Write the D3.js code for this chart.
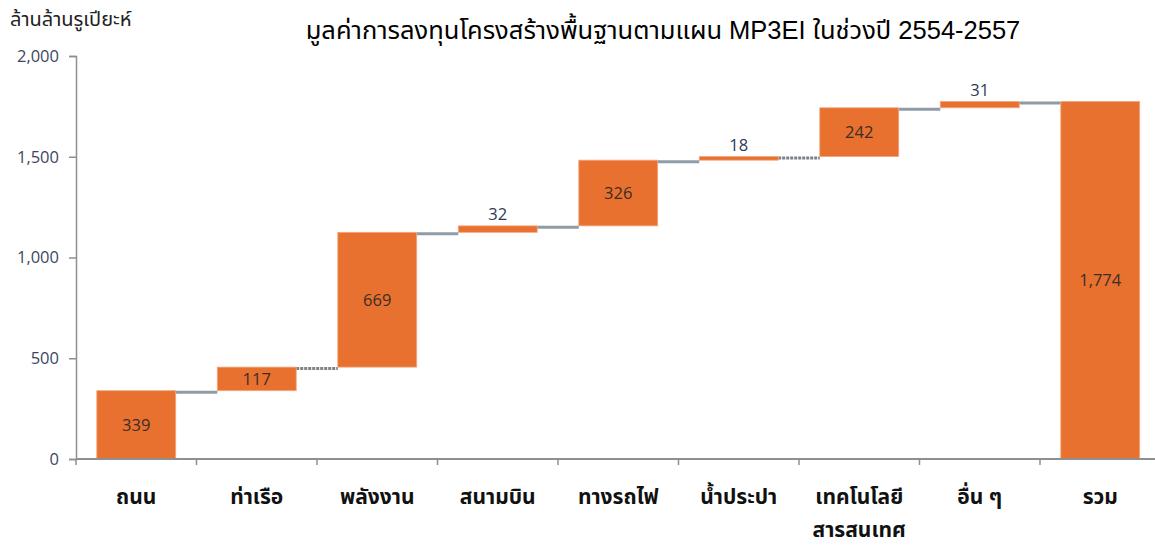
<!DOCTYPE html>
<html>
<head>
<meta charset="utf-8">
<script src="https://cdn.jsdelivr.net/npm/d3@7"></script>
<style>
  body { margin: 0; background: #fff; }
  svg { display: block; }
</style>
</head>
<body>
<div id="chart"></div>
<script>
// Données du graphique
const categories = ["ถนน", "ท่าเรือ", "พลังงาน", "สนามบิน", "ทางรถไฟ", "น้ำประปา", "เทคโนโลยี|สารสนเทศ", "อื่น ๆ", "รวม"];
const values = [339, 117, 669, 32, 326, 18, 242, 31, 1774];
const isTotal = [false, false, false, false, false, false, false, false, true];
const yTicks = [0, 500, 1000, 1500, 2000];
const title = "มูลค่าการลงทุนโครงสร้างพื้นฐานตามแผน MP3EI ในช่วงปี 2554-2557";
const yLabel = "ล้านล้านรูเปียะห์";

const W = 1155, H = 545;
const margin = { top: 56, left: 76, bottom: 86 };
const barColor = "#e8712f";
const linkColor = "#8e9ca8";
const dottedLinks = [1, 5]; // connecteurs qui apparaissent pointillés

const svg = d3.select("#chart").append("svg")
  .attr("width", W).attr("height", H);

// Échelles
const x = d3.scaleBand()
  .domain(categories)
  .range([margin.left, margin.left + 9 * 120.5])
  .paddingInner(0.345)
  .paddingOuter(0.1725);

const y = d3.scaleLinear()
  .domain([0, 2000])
  .range([H - margin.bottom, margin.top]);

// Calcul des bases (cascade)
let run = 0;
const bars = values.map((v, i) => {
  const start = isTotal[i] ? 0 : run;
  const end = isTotal[i] ? v : run + v;
  if (!isTotal[i]) run += v;
  return { cat: categories[i], v, start, end };
});

// Axe Y
const yAxis = svg.append("g")
  .attr("transform", `translate(${margin.left},0)`)
  .call(d3.axisLeft(y).tickValues(yTicks).tickFormat(d3.format(",")).tickSize(7).tickPadding(10));
yAxis.select(".domain").attr("stroke", "#8f8f8f").attr("stroke-width", 1.5);
yAxis.selectAll(".tick line").attr("stroke", "#8f8f8f").attr("stroke-width", 1.5);
yAxis.selectAll(".tick text")
  .attr("fill", "#3d4760")
  .style("font-family", "'Open Sans', 'Liberation Sans', sans-serif")
  .style("font-size", "16.5px");

// Connecteurs
bars.slice(0, -1).forEach((b, i) => {
  const nxt = bars[i + 1];
  const lvl = b.end;
  svg.append("line")
    .attr("x1", x(b.cat) + x.bandwidth())
    .attr("x2", x(nxt.cat))
    .attr("y1", y(lvl) + 1.5)
    .attr("y2", y(lvl) + 1.5)
    .attr("stroke", dottedLinks.includes(i) ? "#7d8288" : linkColor)
    .attr("stroke-width", 3)
    .attr("stroke-dasharray", dottedLinks.includes(i) ? "3,1" : null);
});

// Barres
svg.selectAll("rect.bar")
  .data(bars)
  .join("rect")
  .attr("class", "bar")
  .attr("x", d => x(d.cat))
  .attr("width", x.bandwidth())
  .attr("y", d => y(d.end))
  .attr("height", d => y(d.start) - y(d.end))
  .attr("fill", barColor)
  .attr("stroke", "#f3a67c")
  .attr("stroke-width", 0.8);

// Axe X
const xAxis = svg.append("g")
  .attr("transform", `translate(0,${y(0)})`);
xAxis.append("line")
  .attr("x1", margin.left).attr("x2", W)
  .attr("stroke", "#8f8f8f").attr("stroke-width", 2);
d3.range(categories.length + 1).forEach(i => {
  const xt = margin.left + i * x.step();
  xAxis.append("line")
    .attr("x1", xt).attr("x2", xt).attr("y1", 0).attr("y2", 6)
    .attr("stroke", "#8f8f8f").attr("stroke-width", 1.5);
});

// Étiquettes des catégories
bars.forEach(b => {
  const lines = b.cat.split("|");
  const t = svg.append("text")
    .attr("x", x(b.cat) + x.bandwidth() / 2)
    .attr("y", 504)
    .attr("text-anchor", "middle")
    .attr("fill", "#111")
    .style("font-family", "'Noto Sans Thai', 'Tahoma', 'DejaVu Sans', sans-serif")
    .style("font-weight", "bold")
    .style("font-size", "21px");
  lines.forEach((l, k) => {
    t.append("tspan")
      .attr("x", x(b.cat) + x.bandwidth() / 2)
      .attr("dy", k === 0 ? 0 : 33)
      .text(l);
  });
});

// Étiquettes des valeurs
bars.forEach(b => {
  const h = y(b.start) - y(b.end);
  const inside = h > 20;
  svg.append("text")
    .attr("x", x(b.cat) + x.bandwidth() / 2)
    .attr("y", inside ? (y(b.start) + y(b.end)) / 2 + 6 : y(b.end) - 6)
    .attr("text-anchor", "middle")
    .attr("fill", inside ? "#3a2e26" : "#2f3a58")
    .style("font-family", "'Open Sans', 'Liberation Sans', sans-serif")
    .style("font-size", "16.5px")
    .text(d3.format(",")(b.v));
});

// Titre et libellé de l'axe
svg.append("text")
  .attr("x", 663).attr("y", 39)
  .attr("text-anchor", "middle")
  .attr("fill", "#000")
  .style("font-family", "'Liberation Sans', 'Noto Sans Thai', sans-serif")
  .style("font-size", "25.5px")
  .text(title);

svg.append("text")
  .attr("x", 10).attr("y", 26)
  .attr("fill", "#222")
  .style("font-family", "'Liberation Sans', 'Noto Sans Thai', sans-serif")
  .style("font-size", "20px")
  .text(yLabel);
</script>
</body>
</html>
